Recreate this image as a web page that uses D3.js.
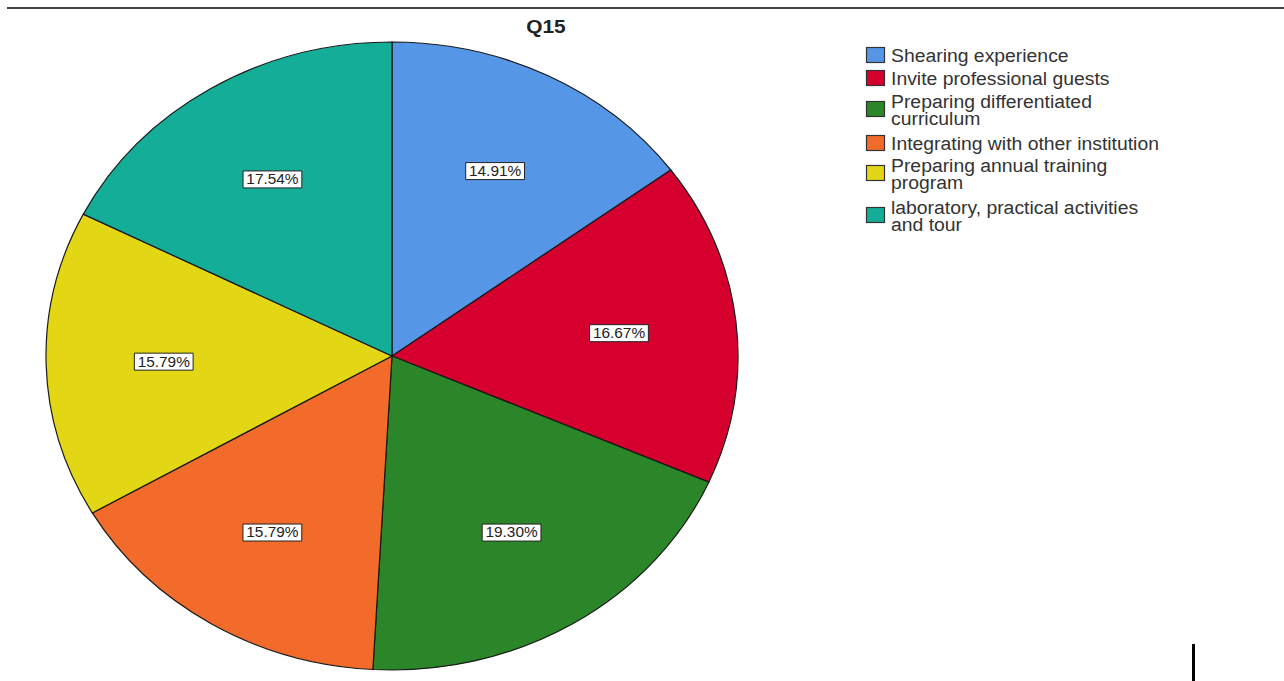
<!DOCTYPE html>
<html>
<head>
<meta charset="utf-8">
<script src="https://cdn.jsdelivr.net/npm/d3@7"></script>
<style>
  html, body { margin: 0; padding: 0; background: #fff; }
  svg { display: block; }
  text { font-family: "Liberation Sans", Arial, sans-serif; }
</style>
</head>
<body>
<svg id="chart" width="1284" height="681"></svg>
<script>
const title = "Q15";
const categories = [
  "Shearing experience",
  "Invite professional guests",
  "Preparing differentiated curriculum",
  "Integrating with other institution",
  "Preparing annual training program",
  "laboratory, practical activities and tour"
];
const legendLines = [
  ["Shearing experience"],
  ["Invite professional guests"],
  ["Preparing differentiated", "curriculum"],
  ["Integrating with other institution"],
  ["Preparing annual training", "program"],
  ["laboratory, practical activities", "and tour"]
];
const values = [14.91, 16.67, 19.30, 15.79, 15.79, 17.54];
const colors = ["#5596e6", "#d6002f", "#2a8629", "#f26b2a", "#e3d614", "#14ae98"];

const svg = d3.select("#chart");
const W = 1284, H = 681;
const cx = 392, cy = 356, R = 314, sx = 346 / 314;
const stretch = 1.1;

// top rule
svg.append("line").attr("x1", 7).attr("x2", W).attr("y1", 8).attr("y2", 8)
  .attr("stroke", "#000").attr("stroke-width", 1.5);

// title
svg.append("g").attr("transform", `translate(546,33) scale(${stretch},1)`)
  .append("text").attr("text-anchor", "middle")
  .attr("font-size", 19).attr("font-weight", "bold").attr("fill", "#222")
  .text(title);

const pie = d3.pie().sort(null).value(d => d).startAngle(0).endAngle(2 * Math.PI);
const arcs = pie(values);
const arc = d3.arc().innerRadius(0).outerRadius(R);
const labelArc = d3.arc().innerRadius(R * 0.66).outerRadius(R * 0.66);

const g = svg.append("g").attr("transform", `translate(${cx},${cy}) scale(${sx},1)`);
g.selectAll("path").data(arcs).join("path")
  .attr("d", arc)
  .attr("fill", (d, i) => colors[i])
  .attr("stroke", "#1a1a1a")
  .attr("stroke-width", 1.2)
  .attr("vector-effect", "non-scaling-stroke");

const fmt = d3.format(".2f");
const lg = svg.append("g");
arcs.forEach((d, i) => {
  const [x, y] = labelArc.centroid(d);
  const px = cx + x * sx, py = cy + y;
  const gg = lg.append("g").attr("transform", `translate(${px},${py}) scale(${stretch},1)`);
  const rect = gg.append("rect");
  const t = gg.append("text").attr("text-anchor", "middle").attr("dy", "0.35em")
    .attr("font-size", 14).attr("fill", "#222").text(fmt(values[i]) + "%");
  const bb = t.node().getBBox();
  rect.attr("x", bb.x - 3).attr("y", -8.5).attr("width", bb.width + 6).attr("height", 17)
    .attr("fill", "#fff").attr("stroke", "#222").attr("stroke-width", 1)
    .attr("vector-effect", "non-scaling-stroke");
});

// legend
const legendTop = [47, 70, 101, 135, 165, 207];
const leg = svg.append("g");
legendLines.forEach((lines, i) => {
  const top = legendTop[i];
  const sh = 16;
  const textCenter = top + sh / 2 + 1;
  leg.append("rect").attr("x", 866.5).attr("y", top + 0.5).attr("width", 18).attr("height", sh - 1)
    .attr("fill", colors[i]).attr("stroke", "#333").attr("stroke-width", 1.2);
  const lh = 17.5;
  const n = lines.length;
  lines.forEach((ln, j) => {
    const yc = textCenter + (j - (n - 1) / 2) * lh;
    leg.append("g").attr("transform", `translate(891,${yc}) scale(${stretch},1)`)
      .append("text").attr("dy", "0.36em").attr("font-size", 17.6).attr("fill", "#333")
      .text(ln);
  });
});

// small vertical mark at bottom right
svg.append("rect").attr("x", 1192).attr("y", 644).attr("width", 3).attr("height", 37).attr("fill", "#000");
</script>
</body>
</html>
